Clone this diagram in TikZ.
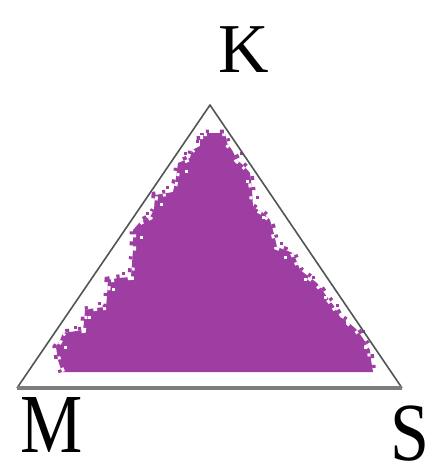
\documentclass[tikz,border=0pt]{standalone}
\usepackage{fontspec}
\setmainfont{Liberation Serif}
\definecolor{purp}{RGB}{158,62,163}
\definecolor{edge}{RGB}{80,85,85}
\definecolor{base}{RGB}{125,125,125}
\begin{document}
\begin{tikzpicture}[x=1pt,y=-1pt,
  lbl/.style={font=\fontsize{70}{70}\selectfont, inner sep=0pt, anchor=base, text height=46pt, text depth=0pt},
  side/.style={draw=edge, line width=1.6pt},
  hole/.style={fill=white},
  dot/.style={fill=purp}]
\useasboundingbox (0,0) rectangle (431,468);
\fill[white] (0,0) rectangle (431,468);
\def\rag{(62,372) -- (58,360) -- (56,347) -- (60,340) -- (63,333) -- (70,332) -- (83,330) -- (84,322) -- (85,310) -- (95,308) -- (106,307)
 -- (107,296) -- (108,280) -- (118,278) -- (131,277) -- (133,250) -- (133,230) -- (140,222) -- (150,217) -- (154,210) -- (155,195)
 -- (173,192) -- (176,178) -- (178,163) -- (190,158) -- (192,150) -- (200,146) -- (200,133) -- (225,133) -- (227,143) -- (232,150)
 -- (237,160) -- (244,166) -- (250,173) -- (252,190) -- (253,207) -- (262,212) -- (270,220) -- (274,234) -- (277,247) -- (285,250)
 -- (293,253) -- (297,262) -- (300,270) -- (308,276) -- (317,283) -- (322,290) -- (327,297) -- (334,306) -- (340,317) -- (348,322)
 -- (357,330) -- (364,340) -- (370,350) -- (371,360) -- (373,372)}
% purple region
\fill[purp] \rag -- cycle;
\begin{scope}
  \clip \rag -- cycle;
  \draw[white, line width=6pt, dash pattern=on 4pt off 9pt on 3pt off 14pt on 4pt off 6pt on 3pt off 17pt] \rag;
\end{scope}
\begin{scope}[even odd rule]
  \clip (0,0) rectangle (431,468) \rag -- cycle;
  \draw[purp, line width=7pt, dash pattern=on 3pt off 11pt on 4pt off 7pt on 3pt off 16pt on 4pt off 9pt] \rag;
\end{scope}
% a few loose holes and dots
\foreach \x/\y in {185/170,160/203,140/236,112/288,88/316,64/346,246/180,262/216,284/256,304/278,324/296,346/320,364/346}
  \fill[hole] (\x,\y) rectangle ++(3,3);
\foreach \x/\y in {196/140,184/152,166/186,146/212,122/272,98/302,74/326,240/152,256/196,280/242,312/276,336/304,362/330}
  \fill[dot] (\x,\y) rectangle ++(3,3);
% triangle
\coordinate (apex) at (210,105);
\coordinate (left) at (17,388);
\coordinate (right) at (402,388);
\draw[side, line join=round] (left) -- (apex) -- (right);
\draw[draw=base, line width=4pt] (left) -- (right);
% labels
\node[lbl] (k) at (244,73) {K};
\node[lbl, yscale=1.2] (m) at (52,452) {M};
\node[lbl, yscale=1.18] (s) at (410,460) {S};
\end{tikzpicture}
\end{document}
